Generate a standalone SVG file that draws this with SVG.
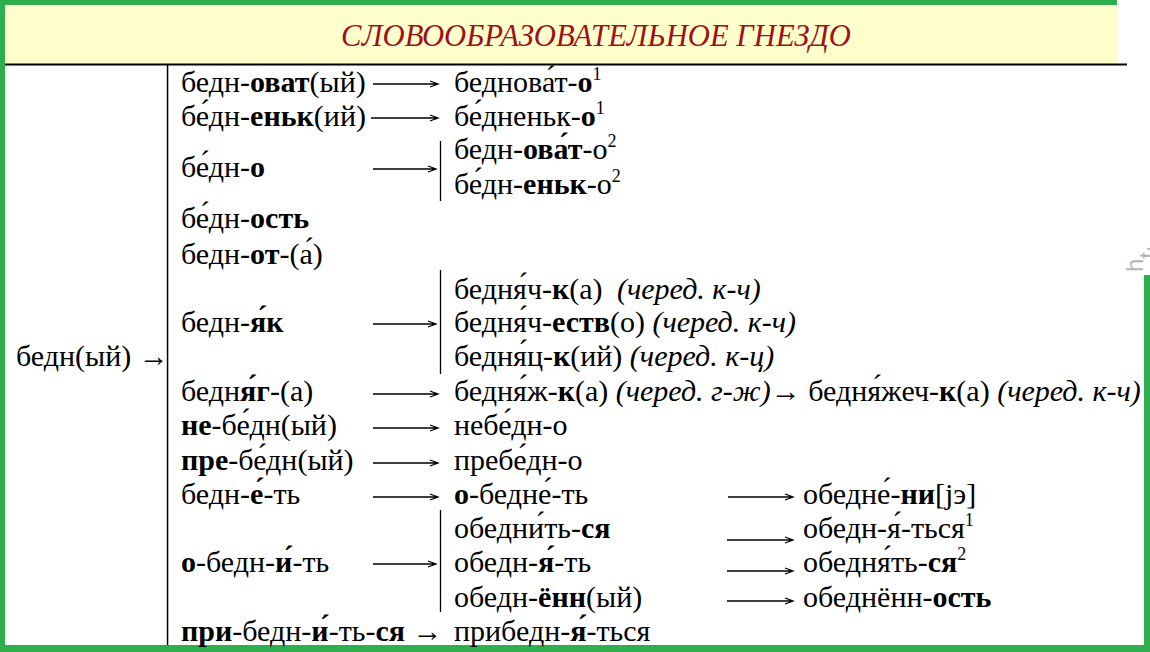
<svg xmlns="http://www.w3.org/2000/svg" width="1150" height="652" viewBox="0 0 1150 652" font-family="Liberation Serif" style="font-family:'Liberation Serif'">
<defs>
<style>
.ln{stroke:#000;stroke-width:1.3;fill:none}
.bar{stroke:#000;stroke-width:1.3;fill:none}
.b{font-weight:bold}
.i{font-style:italic}
</style>
</defs>
<rect x="0" y="0" width="1150" height="652" fill="#2fae50"/>
<rect x="5" y="5" width="1139" height="640" fill="#ffffff"/>
<rect x="1117" y="0" width="33" height="275" fill="#ffffff"/>
<rect x="5" y="5" width="1112" height="59" fill="#ffffcc"/>
<rect x="5" y="63.5" width="1122" height="2" fill="#000"/>
<rect x="166.8" y="64" width="1.5" height="581" fill="#000"/>
<g id="title">
<text x="596" y="46" text-anchor="middle" style="font-family:'Liberation Serif';font-style:italic;font-size:31px" fill="#a01018" textLength="510" lengthAdjust="spacingAndGlyphs">СЛОВООБРАЗОВАТЕЛЬНОЕ ГНЕЗДО</text>
</g>
<g id="root"><text style="font-family:'Liberation Serif';font-size:30px" x="16" y="366">бедн(ый) →</text></g>
<g id="n-bednovatyi"><text style="font-family:'Liberation Serif';font-size:30px" x="181" y="92">бедн-<tspan class="b">оват</tspan>(ый)</text></g>
<g id="n-bedenkii"><text style="font-family:'Liberation Serif';font-size:30px" x="181" y="126">бе&#769;дн-<tspan class="b">еньк</tspan>(ий)</text></g>
<g id="n-bedno"><text style="font-family:'Liberation Serif';font-size:30px" x="181" y="177">бе&#769;дн-<tspan class="b">о</tspan></text></g>
<g id="n-bednost"><text style="font-family:'Liberation Serif';font-size:30px" x="181" y="228">бе&#769;дн-<tspan class="b">ость</tspan></text></g>
<g id="n-bednota"><text style="font-family:'Liberation Serif';font-size:30px" x="181" y="264">бедн-<tspan class="b">от</tspan>-(а&#769;)</text></g>
<g id="n-bednyak"><text style="font-family:'Liberation Serif';font-size:30px" x="181" y="332">бедн-<tspan class="b">я&#769;к</tspan></text></g>
<g id="n-bednyaga"><text style="font-family:'Liberation Serif';font-size:30px" x="181" y="401">бедн<tspan class="b">я&#769;г</tspan>-(а)</text></g>
<g id="n-nebednyi"><text style="font-family:'Liberation Serif';font-size:30px" x="181" y="435"><tspan class="b">не</tspan>-бе&#769;дн(ый)</text></g>
<g id="n-prebednyi"><text style="font-family:'Liberation Serif';font-size:30px" x="181" y="470"><tspan class="b">пре</tspan>-бе&#769;дн(ый)</text></g>
<g id="n-bednet"><text style="font-family:'Liberation Serif';font-size:30px" x="181" y="504">бедн-<tspan class="b">е&#769;</tspan>-ть</text></g>
<g id="n-obednit"><text style="font-family:'Liberation Serif';font-size:30px" x="181" y="572"><tspan class="b">о</tspan>-бедн-<tspan class="b">и&#769;</tspan>-ть</text></g>
<g id="n-pribednitsya"><text style="font-family:'Liberation Serif';font-size:30px" x="181" y="641"><tspan class="b">при</tspan>-бедн-<tspan class="b">и&#769;</tspan>-ть-<tspan class="b">ся</tspan> →</text></g>
<g id="n-bednovato1"><text style="font-family:'Liberation Serif';font-size:30px" x="454" y="92">беднова&#769;т-<tspan class="b">о</tspan><tspan font-size="18" dy="-12">1</tspan></text></g>
<g id="n-bedenko1"><text style="font-family:'Liberation Serif';font-size:30px" x="454" y="126">бе&#769;дненьк-<tspan class="b">о</tspan><tspan font-size="18" dy="-12">1</tspan></text></g>
<g id="n-bednovato2"><text style="font-family:'Liberation Serif';font-size:30px" x="454" y="159">бедн-<tspan class="b">ова&#769;т</tspan>-о<tspan font-size="18" dy="-12">2</tspan></text></g>
<g id="n-bedenko2"><text style="font-family:'Liberation Serif';font-size:30px" x="454" y="194">бе&#769;дн-<tspan class="b">еньк</tspan>-о<tspan font-size="18" dy="-12">2</tspan></text></g>
<g id="n-bednyachka"><text style="font-family:'Liberation Serif';font-size:30px" x="454" y="299">бедня&#769;ч-<tspan class="b">к</tspan>(а)<tspan class="i" x="617">(черед. к-ч)</tspan></text></g>
<g id="n-bednyachestvo"><text style="font-family:'Liberation Serif';font-size:30px" x="454" y="332">бедня&#769;ч-<tspan class="b">еств</tspan>(о) <tspan class="i">(черед. к-ч)</tspan></text></g>
<g id="n-bednyatskii"><text style="font-family:'Liberation Serif';font-size:30px" x="454" y="366">бедня&#769;ц-<tspan class="b">к</tspan>(ий) <tspan class="i">(черед. к-ц)</tspan></text></g>
<g id="n-bednyazhka"><text style="font-family:'Liberation Serif';font-size:30px" x="454" y="401">бедня&#769;ж-<tspan class="b">к</tspan>(а) <tspan class="i">(черед. г-ж)</tspan>→ бедня&#769;жеч-<tspan class="b">к</tspan>(а) <tspan class="i">(черед. к-ч)</tspan></text></g>
<g id="n-nebedno"><text style="font-family:'Liberation Serif';font-size:30px" x="454" y="435">небе&#769;дн-о</text></g>
<g id="n-prebedno"><text style="font-family:'Liberation Serif';font-size:30px" x="454" y="470">пребе&#769;дн-о</text></g>
<g id="n-obednet"><text style="font-family:'Liberation Serif';font-size:30px" x="454" y="504"><tspan class="b">о</tspan>-бедне&#769;-ть</text></g>
<g id="n-obednitsya"><text style="font-family:'Liberation Serif';font-size:30px" x="454" y="538">обедни&#769;ть-<tspan class="b">ся</tspan></text></g>
<g id="n-obednyat"><text style="font-family:'Liberation Serif';font-size:30px" x="454" y="572">обедн-<tspan class="b">я&#769;</tspan>-ть</text></g>
<g id="n-obednennyi"><text style="font-family:'Liberation Serif';font-size:30px" x="454" y="607">обедн-<tspan class="b">ённ</tspan>(ый)</text></g>
<g id="n-pribednyatsya"><text style="font-family:'Liberation Serif';font-size:30px" x="454" y="641">прибедн-<tspan class="b">я&#769;</tspan>-ться</text></g>
<g id="n-obednenie"><text style="font-family:'Liberation Serif';font-size:30px" x="803" y="504">обедне&#769;-<tspan class="b">ни</tspan>[jэ]</text></g>
<g id="n-obednyatsya1"><text style="font-family:'Liberation Serif';font-size:30px" x="803" y="538">обедн-я&#769;-ться<tspan font-size="18" dy="-12">1</tspan></text></g>
<g id="n-obednyatsya2"><text style="font-family:'Liberation Serif';font-size:30px" x="803" y="572">обедня&#769;ть-<tspan class="b">ся</tspan><tspan font-size="18" dy="-12">2</tspan></text></g>
<g id="n-obednennost"><text style="font-family:'Liberation Serif';font-size:30px" x="803" y="607">обеднённ-<tspan class="b">ость</tspan></text></g>
<g id="watermark">
<text style="font-family:'Liberation Sans';font-size:24px" fill="#b4b4b4" x="1143" y="272 258.7 252 245.3 232 220 213.3 206.6 200 186.6 178.6 165.3 145.3 125.3 111.9 105.3 99.9 87.9 74.6 66.6 58.6 45.3 33.3 26.6 18.6 5.3" rotate="-90">https://grammatika-rus.ru/</text>
</g>
<g id="connectors">
<path class="ln" d="M373,84H437M430,81L438,84L430,87"/>
<path class="ln" d="M371,118H437M430,115L438,118L430,121"/>
<path class="ln" d="M373,169H435M428,166L436,169L428,172"/>
<path class="ln" d="M373,324H435M428,321L436,324L428,327"/>
<path class="ln" d="M373,394H437M430,391L438,394L430,397"/>
<path class="ln" d="M373,428H437M430,425L438,428L430,431"/>
<path class="ln" d="M373,463H437M430,460L438,463L430,466"/>
<path class="ln" d="M373,497H437M430,494L438,497L430,500"/>
<path class="ln" d="M373,564H435M428,561L436,564L428,567"/>
<path class="ln" d="M728,497H792M785,494L793,497L785,500"/>
<path class="ln" d="M727,540H792M785,537L793,540L785,543"/>
<path class="ln" d="M727,571H792M785,568L793,571L785,574"/>
<path class="ln" d="M727,601H792M785,598L793,601L785,604"/>
<path class="bar" d="M440.5,141V201M440.5,270V374M440.5,510V612"/>
</g>
</svg>
